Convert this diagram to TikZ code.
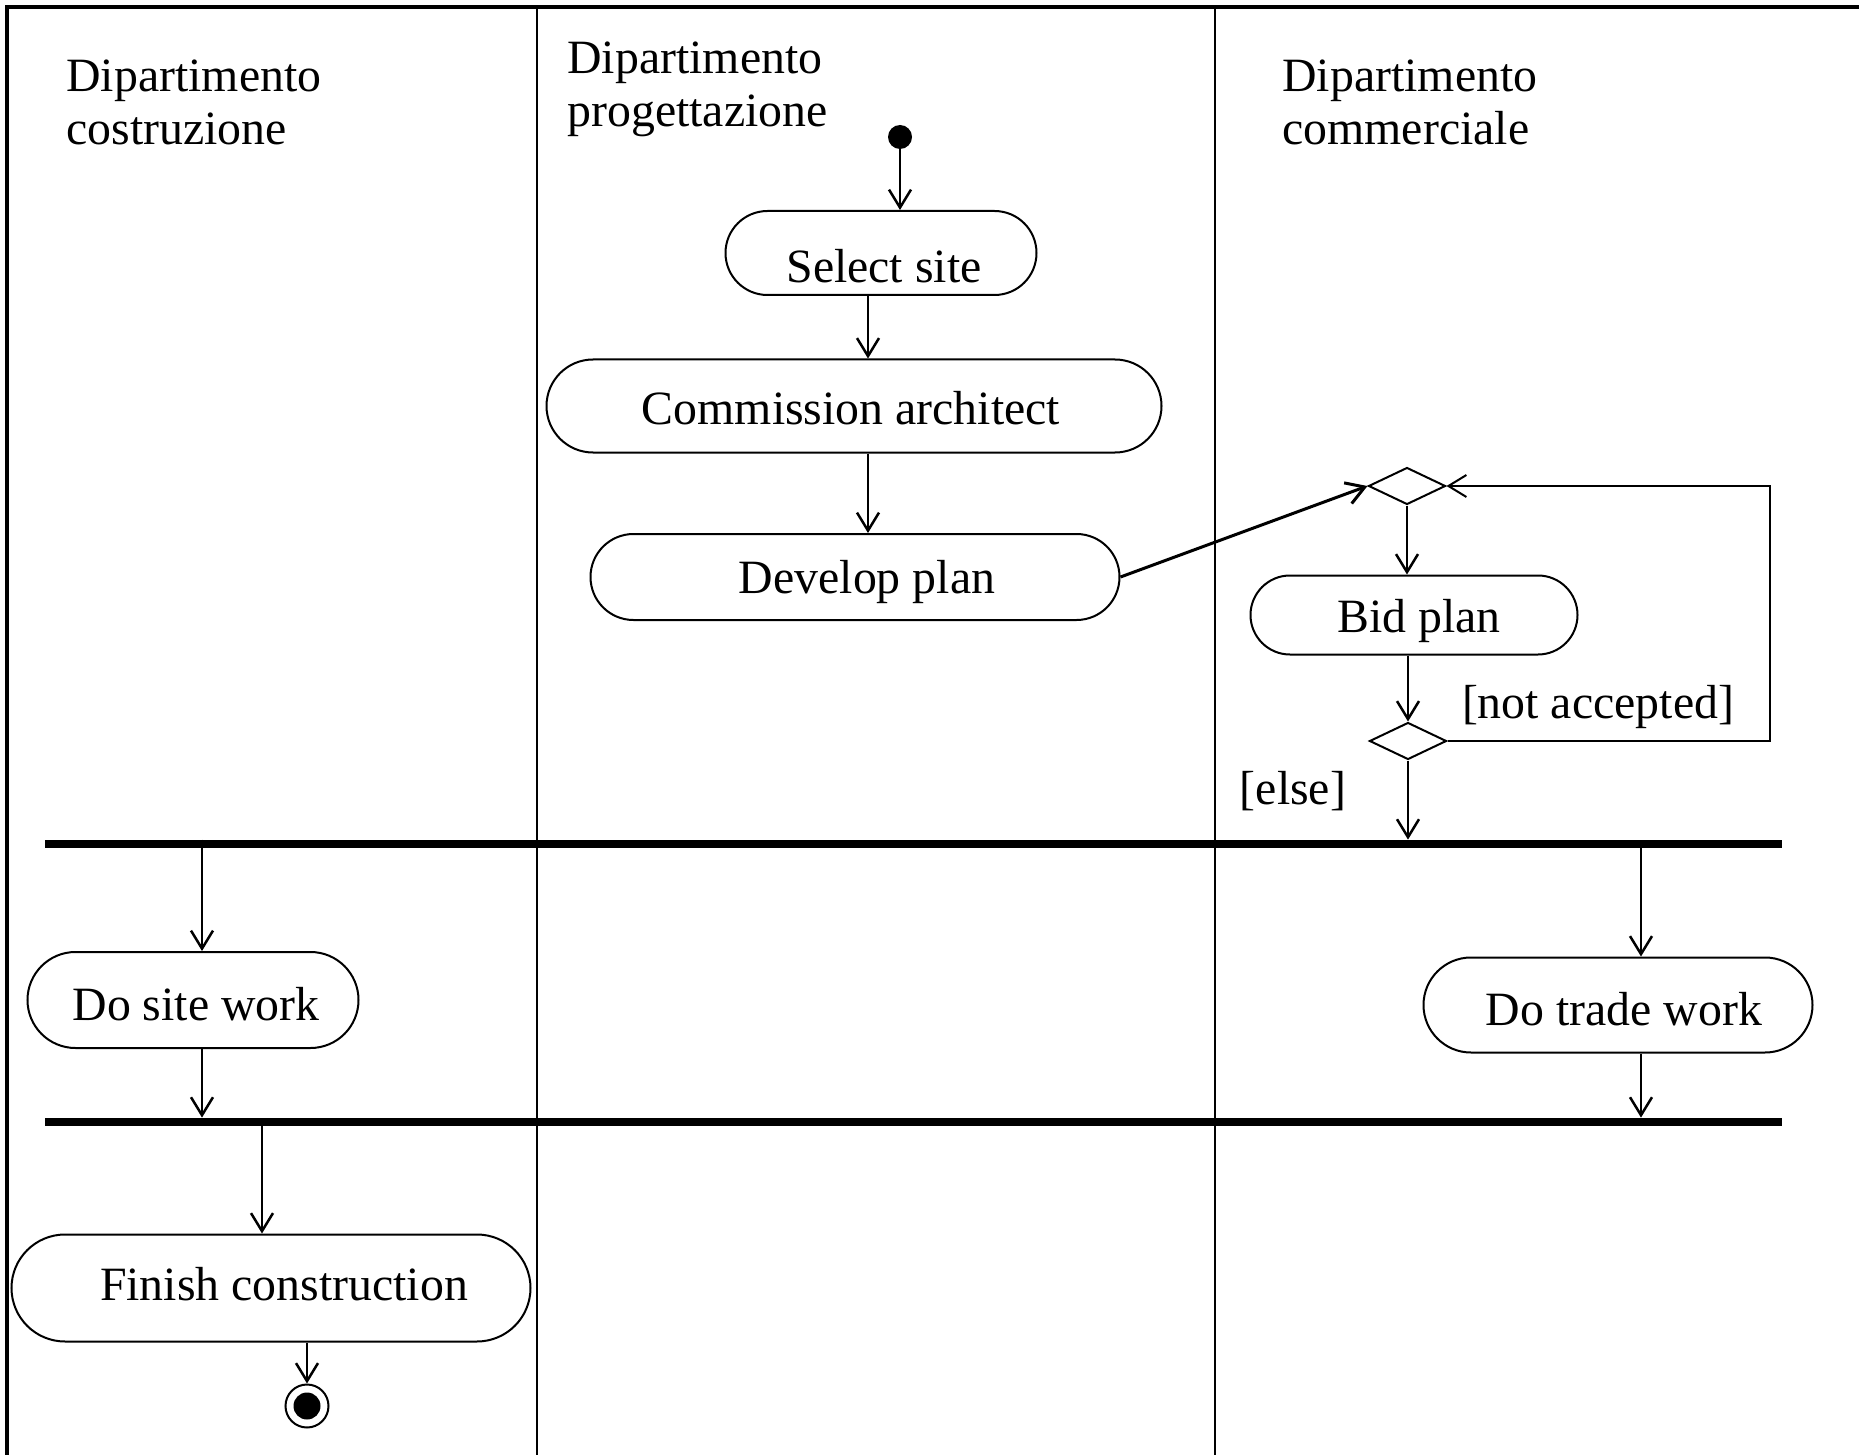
\documentclass[tikz,border=0pt]{standalone}
\usepackage{fontspec}
\setmainfont{Liberation Serif}
\usepackage{tikz}
\usetikzlibrary{shapes.geometric,shapes.misc}
\usetikzlibrary{arrows.meta,arrows}
\newcommand{\sinktext}[2]{\raisebox{#1}[\height][\depth]{#2}}

\begin{document}
\begin{tikzpicture}[x=0.5pt,y=-0.5pt,
    every node/.style={font=\fontsize{23.9}{26.7}\selectfont},
    act/.style={draw, rounded rectangle, line width=1pt, inner sep=0pt},
    choice/.style={draw, diamond, line width=1pt, inner sep=0pt,
        minimum width=38.5pt, minimum height=18.5pt},
    bar/.style={fill=black, inner sep=0pt, minimum width=868.5pt, minimum height=4pt},
    flow/.style={line width=1.25pt, -{Straight Barb[length=9pt,width=11pt]}},
    lane/.style={anchor=north west, inner sep=0pt, align=left}]
    \useasboundingbox (0,0) rectangle (1859,1455);
    % Swimlanes
       \draw[line width=2pt] (7,1455) -- (7,7) -- (1859,7);
       \draw[line width=1pt] (537,7) -- (537,1455);
       \draw[line width=1pt] (1215,7) -- (1215,1455);
       \node[lane] (lcos) at (66,59) {Dipartimento\\costruzione};
       \node[lane] (lpro) at (567,41) {Dipartimento\\progettazione};
       \node[lane] (lcom) at (1282,59) {Dipartimento\\commerciale};
    % Activities
       \node[circle, fill=black, inner sep=0pt, minimum size=12pt] (start) at (900,137) {};
       \node[act, minimum width=155.5pt, minimum height=42pt] (sel) at (881,253)
           {\hspace*{3pt}\sinktext{-6.5pt}{Select site}};
       \node[act, minimum width=307.5pt, minimum height=46.5pt] (com) at (854,406)
           {\sinktext{-1pt}{Commission architect}\hspace*{3pt}};
       \node[act, minimum width=264.5pt, minimum height=43pt] (dev) at (855,577)
           {\hspace*{12pt}\sinktext{-2.5pt}{Develop plan}};
       \node[choice] (mrg) at (1407,486) {};
       \node[act, minimum width=163.5pt, minimum height=39.5pt] (bid) at (1414,615)
           {\hspace*{5pt}\sinktext{-3pt}{Bid plan}};
       \node[choice] (dec) at (1408,741) {};
       \node (nacc) at (1598,707) {[not accepted]};
       \node (els) at (1293,791) {[else]};
       \coordinate (loop) at (1770,741);
    % Fork and join
       \node[bar] (fork) at (913.5,844) {};
       \node[act, minimum width=165.5pt, minimum height=48pt] (site) at (193,1000)
           {\hspace*{3pt}\sinktext{-2pt}{Do site work}};
       \node[act, minimum width=194.5pt, minimum height=47.5pt] (trade) at (1618,1005)
           {\hspace*{6pt}\sinktext{-2pt}{Do trade work}};
       \node[bar] (join) at (913.5,1122) {};
       \node[act, minimum width=259.5pt, minimum height=53.5pt] (fin) at (271,1288)
           {\hspace*{13pt}\sinktext{2pt}{Finish construction}};
       \node[circle, draw, line width=1pt, inner sep=0pt, minimum size=21.5pt] (stop) at (307,1406) {};
       \node[circle, fill=black, inner sep=0pt, minimum size=13.5pt] (stopdot) at (stop) {};
    %
    % Control flow
       \draw[flow] (start) -- (start |- sel.north);
       \draw[flow] ([xshift=-6.5pt]sel.south) -- ([xshift=-6.5pt]sel.south |- com.north);
       \draw[flow] ([xshift=7pt]com.south) -- ([xshift=7pt]com.south |- dev.north);
       \draw[flow, line width=1.5pt] (dev.east) -- (mrg.west);
       \draw[flow] (mrg.south) -- (mrg.south |- bid.north);
       \draw[flow] (bid.south -| dec) -- (dec.north);
       \draw[flow, line width=1pt] (dec.east) -- (loop) |- (mrg.east);
       \draw[flow] (dec.south) -- (dec.south |- fork.north);
    % Parallel work
       \draw[flow] ([xshift=4.5pt]site.north |- fork.north) -- ([xshift=4.5pt]site.north);
       \draw[flow] ([xshift=11.5pt]trade.north |- fork.south) -- ([xshift=11.5pt]trade.north);
       \draw[flow] ([xshift=4.5pt]site.south) -- ([xshift=4.5pt]site.south |- join.north);
       \draw[flow] ([xshift=11.5pt]trade.south) -- ([xshift=11.5pt]trade.south |- join.north);
       \draw[flow] ([xshift=-4.5pt]fin.north |- join.south) -- ([xshift=-4.5pt]fin.north);
       \draw[flow] (fin.south -| stop) -- (stop.north);
\end{tikzpicture}
\end{document}
